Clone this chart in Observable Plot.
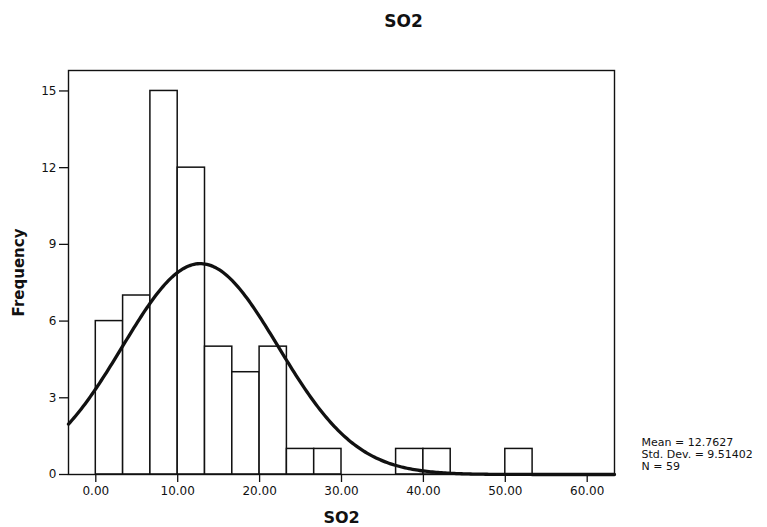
<!DOCTYPE html>
<html>
<head>
<meta charset="utf-8">
<script src="https://cdn.jsdelivr.net/npm/d3@7"></script>
<script src="https://cdn.jsdelivr.net/npm/@observablehq/plot@0.6"></script>
<style>
  html, body { margin: 0; padding: 0; background: #fff; }
  #chart { width: 767px; height: 527px; }
</style>
</head>
<body>
<div id="chart"></div>
<script>
// Histogram bins (SO2, width 3.333) and frequencies
const binStarts = [0, 3.3333, 6.6667, 10, 13.3333, 16.6667, 20, 23.3333, 26.6667, 36.6667, 40, 50];
const counts    = [6, 7, 15, 12, 5, 4, 5, 1, 1, 1, 1, 1];
const binWidth = 3.3333;

// Statistics shown in the chart (used for the fitted normal curve)
const statMean = [12.7627];
const statSd = [9.51402];
const statN = [59];

const xTicks = [0, 10, 20, 30, 40, 50, 60];
const yTicks = [0, 3, 6, 9, 12, 15];
const statLines = ["Mean = 12.7627", "Std. Dev. = 9.51402", "N = 59"];

const bins = binStarts.map((s, i) => ({x1: s, x2: s + binWidth, y: counts[i]}));

// Normal curve fitted by SPSS from the displayed mean / sd / N
const mu = statMean[0], sd = statSd[0], n = statN[0];
const curve = d3.range(0, 301).map(i => {
  const x = -3.3333 + i * (66.6667 / 300);
  const y = n * binWidth * Math.exp(-0.5 * ((x - mu) / sd) ** 2) / (sd * Math.sqrt(2 * Math.PI));
  return {x, y};
});

const font = "DejaVu Sans, Liberation Sans, Arial, sans-serif";
const statDy = [-32, -20, -8];

const chart = Plot.plot({
  width: 767,
  height: 527,
  marginLeft: 68,
  marginTop: 70,
  marginRight: 153,
  marginBottom: 53,
  style: {fontFamily: font, fontSize: "12px", color: "#111", background: "#fff"},
  x: {domain: [-3.3333, 63.3333], label: null},
  y: {domain: [0, 15.8], label: null},
  marks: [
    Plot.rect(bins, {x1: "x1", x2: "x2", y1: 0, y2: "y", fill: "white", stroke: "#111", strokeWidth: 1.5}),
    Plot.line(curve, {x: "x", y: "y", stroke: "#111", strokeWidth: 3.3, curve: "linear"}),
    Plot.frame({stroke: "#111", strokeWidth: 1.4}),
    Plot.axisX(xTicks, {tickSize: 8, tickFormat: d => d.toFixed(2), tickPadding: 4, fontSize: 12, stroke: "#111", strokeWidth: 1.3}),
    Plot.axisY(yTicks, {tickSize: 9, tickFormat: d => String(d), tickPadding: 3, fontSize: 12, stroke: "#111", strokeWidth: 1.3}),
    Plot.text(["SO2"], {frameAnchor: "top-left", dx: 335, dy: -49, fontSize: 17, fontWeight: "bold", textAnchor: "middle", lineAnchor: "middle"}),
    Plot.text(["SO2"], {frameAnchor: "bottom", dy: 43.5, fontSize: 16, fontWeight: "bold", textAnchor: "middle", lineAnchor: "middle"}),
    Plot.text(["Frequency"], {frameAnchor: "left", dx: -49, rotate: -90, fontSize: 15, fontWeight: "bold", textAnchor: "middle", lineAnchor: "middle"}),
    ...statLines.map((t, i) => Plot.text([t], {frameAnchor: "bottom-right", dx: 27, dy: statDy[i], textAnchor: "start", lineAnchor: "middle", fontSize: 11}))
  ]
});
document.getElementById("chart").appendChild(chart);
</script>
</body>
</html>
